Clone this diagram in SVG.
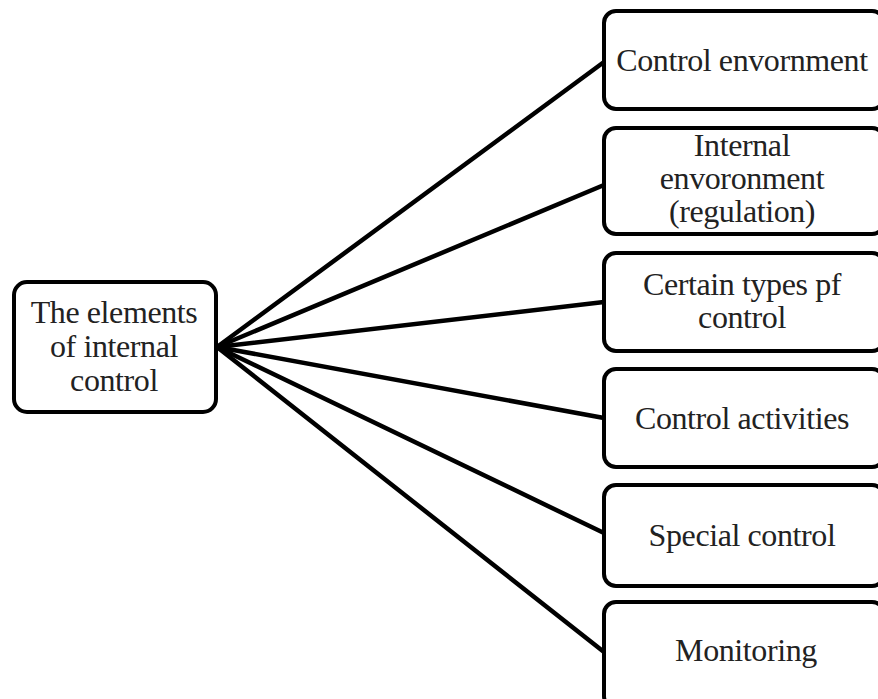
<svg xmlns="http://www.w3.org/2000/svg" width="878" height="699" viewBox="0 0 878 699">
  <style>
    .box { fill: #ffffff; stroke: #000000; stroke-width: 4; }
    .edge { stroke: #000000; stroke-width: 4.5; fill: none; stroke-linecap: round; }
    .label { font-family: "Liberation Serif", "Times New Roman", serif; font-size: 32px; letter-spacing: -0.4px; fill: #222222; text-anchor: middle; }
  </style>
  <rect width="878" height="699" fill="#ffffff"/>

  <g id="connectors">
    <line class="edge" x1="217" y1="347" x2="604" y2="62"/>
    <line class="edge" x1="217" y1="347" x2="604" y2="185"/>
    <line class="edge" x1="217" y1="347" x2="604" y2="302"/>
    <line class="edge" x1="217" y1="347" x2="604" y2="418"/>
    <line class="edge" x1="217" y1="347" x2="604" y2="533"/>
    <line class="edge" x1="217" y1="347" x2="604" y2="652"/>
  </g>

  <g id="root">
    <rect class="box" x="14" y="282" width="202" height="130" rx="13"/>
    <text class="label" x="114" y="323">The elements</text>
    <text class="label" x="114" y="357">of internal</text>
    <text class="label" x="114" y="391">control</text>
  </g>

  <g id="control-environment">
    <rect class="box" x="604" y="11" width="280" height="98" rx="12"/>
    <text class="label" x="742" y="71">Control envornment</text>
  </g>

  <g id="internal-environment">
    <rect class="box" x="604" y="128" width="280" height="106" rx="12"/>
    <text class="label" x="742" y="156">Internal</text>
    <text class="label" x="742" y="189">envoronment</text>
    <text class="label" x="742" y="222">(regulation)</text>
  </g>

  <g id="certain-types">
    <rect class="box" x="604" y="253" width="280" height="98" rx="12"/>
    <text class="label" x="742" y="295">Certain types pf</text>
    <text class="label" x="742" y="328">control</text>
  </g>

  <g id="control-activities">
    <rect class="box" x="604" y="369" width="280" height="98" rx="12"/>
    <text class="label" x="742" y="429">Control activities</text>
  </g>

  <g id="special-control">
    <rect class="box" x="604" y="485" width="280" height="101" rx="12"/>
    <text class="label" x="742" y="546">Special control</text>
  </g>

  <g id="monitoring">
    <rect class="box" x="604" y="602" width="280" height="106" rx="12"/>
    <text class="label" x="746" y="661">Monitoring</text>
  </g>
</svg>
